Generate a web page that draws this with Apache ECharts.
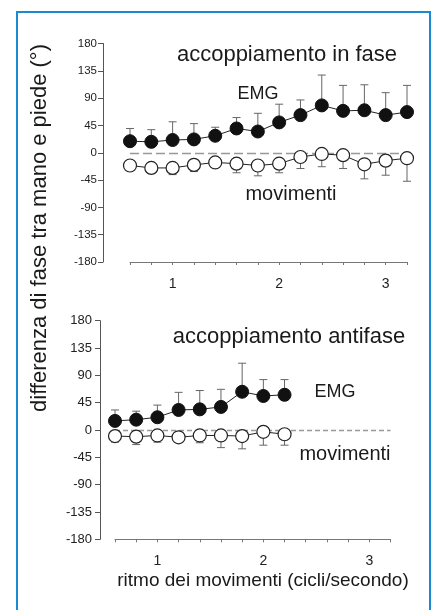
<!DOCTYPE html>
<html>
<head>
<meta charset="utf-8">
<script src="https://cdn.jsdelivr.net/npm/echarts@6/dist/echarts.min.js"></script>
<style>
  html, body { margin: 0; padding: 0; background: #fff; }
  #chart { width: 432px; height: 610px; }
</style>
</head>
<body>
<div id="chart"></div>
<script>
// rate of movement (cycles/second)
const xTop = [0.6, 0.8, 1.0, 1.2, 1.4, 1.6, 1.8, 2.0, 2.2, 2.4, 2.6, 2.8, 3.0, 3.2];
const xBot = [0.6, 0.8, 1.0, 1.2, 1.4, 1.6, 1.8, 2.0, 2.2];

// in-phase coupling
const topEmg = [19, 18, 21, 22, 28, 40, 35, 50, 62, 78, 69, 70, 62, 67];
const topEmgErr = [21, 20, 30, 26, 14, 18, 30, 30, 25, 50, 42, 42, 37, 44];
const topMov = [-21, -25, -25, -20, -16, -18, -21, -18, -7, -2, -4, -19, -13, -9];
const topMovErr = [7, 9, 11, 11, 8, 15, 17, 15, 19, 21, 22, 24, 24, 38];

// anti-phase coupling
const botEmg = [15, 17, 21, 33, 34, 38, 63, 56, 58];
const botEmgErr = [18, 14, 20, 29, 31, 29, 47, 27, 25];
const botMov = [-10, -11, -9, -12, -9, -9, -10, -3, -7];
const botMovErr = [10, 13, 11, 4, 12, 20, 21, 22, 18];

const FONT = 'Liberation Sans';
const chart = echarts.init(document.getElementById('chart'), null, { renderer: 'canvas' });

function pairs(xs, ys) {
  return xs.map((x, i) => [x, ys[i]]);
}

// sign of err: +1 for bars going up, -1 for going down
function errData(xs, ys, errs, sign) {
  return xs.map((x, i) => [x, ys[i], ys[i] + sign * errs[i]]);
}

function renderErr(params, api) {
  const p0 = api.coord([api.value(0), api.value(1)]);
  const p1 = api.coord([api.value(0), api.value(2)]);
  const st = { stroke: '#666', lineWidth: 1 };
  return {
    type: 'group',
    children: [
      { type: 'line', shape: { x1: p0[0], y1: p0[1], x2: p1[0], y2: p1[1] }, style: st },
      { type: 'line', shape: { x1: p1[0] - 4, y1: p1[1], x2: p1[0] + 4, y2: p1[1] }, style: st }
    ]
  };
}

function yAxis(idx, offset, fs, margin) {
  return {
    type: 'value', gridIndex: idx, min: -180, max: 180, interval: 45,
    offset: offset,
    axisLine: { show: true, lineStyle: { color: '#555', width: 1 } },
    axisTick: { show: true, length: 5, lineStyle: { color: '#555' } },
    axisLabel: { fontFamily: FONT, fontSize: fs, color: '#222', margin: margin },
    splitLine: { show: false }
  };
}

function xAxis(idx) {
  return {
    type: 'value', gridIndex: idx, min: 0.6, max: 3.2, interval: 0.2,
    axisLine: { show: true, onZero: false, lineStyle: { color: '#777', width: 1 } },
    axisTick: { show: true, length: 3, lineStyle: { color: '#777' } },
    axisLabel: {
      fontFamily: FONT, fontSize: 14, color: '#222', margin: 15,
      formatter: v => Math.abs(v - Math.round(v)) < 1e-6 ? String(Math.round(v)) : ''
    },
    splitLine: { show: false }
  };
}

function lineSeries(idx, data, filled, dash) {
  const s = {
    type: 'line', xAxisIndex: idx, yAxisIndex: idx, data: data,
    symbol: 'circle', symbolSize: 13, z: 5,
    lineStyle: { color: '#222', width: 1 },
    itemStyle: filled
      ? { color: '#111', borderColor: '#111', borderWidth: 1 }
      : { color: '#fff', borderColor: '#222', borderWidth: 1.2 },
    emphasis: { disabled: true },
    animation: false
  };
  if (dash) {
    s.markLine = {
      silent: true, symbol: 'none', label: { show: false },
      lineStyle: { color: '#999', width: 1.3, type: dash },
      data: [{ yAxis: 0 }]
    };
  }
  return s;
}

function errSeries(idx, data) {
  return {
    type: 'custom', xAxisIndex: idx, yAxisIndex: idx, data: data,
    renderItem: renderErr, z: 3, animation: false, silent: true
  };
}

function label(text, x, y, size) {
  return {
    type: 'text', x: x, y: y,
    style: { text: text, fontFamily: FONT, fontSize: size, fill: '#1a1a1a', align: 'center', verticalAlign: 'middle' }
  };
}

chart.setOption({
  backgroundColor: '#fff',
  animation: false,
  grid: [
    { left: 130, right: 25, top: 43.5, height: 218.5 },
    { left: 115, right: 41.5, top: 320.7, height: 218.6 }
  ],
  xAxis: [xAxis(0), xAxis(1)],
  yAxis: [yAxis(0, 27, 11.5, 6), yAxis(1, 15, 13, 8)],
  series: [
    errSeries(0, errData(xTop, topEmg, topEmgErr, 1)),
    errSeries(0, errData(xTop, topMov, topMovErr, -1)),
    lineSeries(0, pairs(xTop, topEmg), true),
    lineSeries(0, pairs(xTop, topMov), false, [9, 4]),
    errSeries(1, errData(xBot, botEmg, botEmgErr, 1)),
    errSeries(1, errData(xBot, botMov, botMovErr, -1)),
    lineSeries(1, pairs(xBot, botEmg), true),
    lineSeries(1, pairs(xBot, botMov), false, [5, 3])
  ],
  graphic: [
    {
      type: 'rect', shape: { x: 17, y: 12, width: 413, height: 620 },
      style: { fill: 'none', stroke: '#1b8ad3', lineWidth: 2 }
    },
    label('accoppiamento in fase', 287, 55, 22),
    label('EMG', 258, 94, 18),
    label('movimenti', 291, 194, 20),
    label('accoppiamento antifase', 289, 337, 22),
    label('EMG', 335, 392, 18),
    label('movimenti', 345, 454, 20),
    label('ritmo dei movimenti (cicli/secondo)', 263, 581, 19),
    {
      type: 'text', x: 40, y: 228, rotation: Math.PI / 2,
      style: {
        text: 'differenza di fase tra mano e piede (°)', fontFamily: FONT, fontSize: 22,
        fill: '#1a1a1a', align: 'center', verticalAlign: 'middle'
      }
    }
  ]
});
</script>
</body>
</html>
